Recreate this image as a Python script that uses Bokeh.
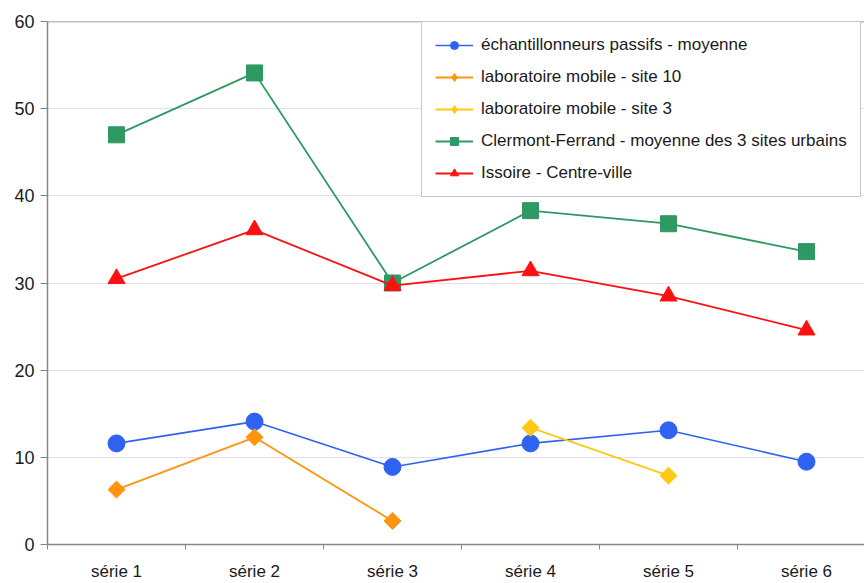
import math

from bokeh.embed import file_html
from bokeh.models import (FixedTicker, Legend, LegendItem, Range1d, Span)
from bokeh.plotting import figure
from bokeh.resources import INLINE

NaN = float("nan")

# Measurement campaigns
categories = ["série 1", "série 2", "série 3", "série 4", "série 5", "série 6"]

# Mean concentrations per campaign
passifs_moyenne = [11.6, 14.1, 8.9, 11.6, 13.1, 9.5]
labo_site10 = [6.3, 12.3, 2.7, NaN, NaN, NaN]
labo_site3 = [NaN, NaN, NaN, 13.4, 7.9, NaN]
clermont_urbains = [47.0, 54.1, 30.0, 38.3, 36.8, 33.6]
issoire_centre = [30.5, 36.1, 29.7, 31.4, 28.5, 24.6]

y_ticks = [0, 10, 20, 30, 40, 50, 60]

# (label, values, colour, marker, size, angle, line width, legend marker)
series = [
    ("échantillonneurs passifs - moyenne", passifs_moyenne, "#3062f2", "circle", 17, 0, 1.6, None),
    ("laboratoire mobile - site 10", labo_site10, "#ff9410", "square", 12, math.pi / 4, 1.8, "diamond"),
    ("laboratoire mobile - site 3", labo_site3, "#ffc814", "square", 12, math.pi / 4, 1.8, "diamond"),
    ("Clermont-Ferrand - moyenne des 3 sites urbains", clermont_urbains, "#2e9962", "square", 16, 0, 1.8, None),
    ("Issoire - Centre-ville", issoire_centre, "#ff1010", "triangle", 17, 0, 1.8, None),
]

x = list(range(1, len(categories) + 1))

p = figure(width=864, height=583, output_backend="svg", toolbar_location=None,
           x_range=Range1d(0.5, 0.5 + 817 / 138), y_range=Range1d(0, 60),
           min_border_left=47, min_border_right=0, min_border_top=21,
           min_border_bottom=38)
p.outline_line_color = None
p.background_fill_color = "white"
p.border_fill_color = "white"

# x axis: names centred on each category, small ticks on the boundaries
p.xaxis.ticker = FixedTicker(ticks=x, minor_ticks=[i + 0.5 for i in range(0, 7)])
p.xaxis.major_label_overrides = {i + 1: c for i, c in enumerate(categories)}
p.xaxis.major_tick_out = 0
p.xaxis.major_tick_in = 0
p.xaxis.minor_tick_out = 5
p.xaxis.minor_tick_in = 0
p.xaxis.major_label_standoff = 12
p.xaxis.major_label_text_font_size = "17px"

p.yaxis.ticker = FixedTicker(ticks=y_ticks)
p.yaxis.major_tick_out = 7
p.yaxis.major_tick_in = 0
p.yaxis.major_label_standoff = 6
p.yaxis.major_label_text_font_size = "18px"

for ax in (p.xaxis, p.yaxis):
    ax.axis_line_color = "#868686"
    ax.axis_line_width = 1.5
    ax.major_tick_line_color = "#868686"
    ax.major_label_text_font = "Liberation Sans"
    ax.major_label_text_color = "#1a1a1a"
p.xaxis.minor_tick_line_color = "#868686"
p.yaxis.minor_tick_line_color = None

p.xgrid.grid_line_color = None
p.ygrid.ticker = FixedTicker(ticks=[10, 20, 30, 40, 50])
p.ygrid.grid_line_color = "#e2e2e2"
p.ygrid.grid_line_width = 1.2

# top border of the plotting area
p.add_layout(Span(location=60, dimension="width", line_color="#808080", line_width=1.5))

items = []
for name, vals, color, marker, size, angle, lw, key_marker in series:
    ln = p.line(x, vals, line_color=color, line_width=lw)
    sc = p.scatter(x, vals, marker=marker, size=size, angle=angle,
                   fill_color=color, line_color=color)
    key = sc
    if key_marker is not None:
        # legend key shape (the rotated square is not rotated in the legend)
        key = p.scatter([NaN], [NaN], marker=key_marker, size=12,
                        fill_color=color, line_color=color)
    items.append(LegendItem(label=name, renderers=[ln, key]))

legend = Legend(items=items, location=(374, 347))
legend.border_line_color = "#8c8c8c"
legend.border_line_width = 1.2
legend.background_fill_color = "white"
legend.background_fill_alpha = 1
legend.label_text_font = "Liberation Sans"
legend.label_text_font_size = "17px"
legend.label_text_color = "#1a1a1a"
legend.glyph_width = 38
legend.glyph_height = 20
legend.label_height = 20
legend.label_standoff = 8
legend.spacing = 12
legend.padding = 13
legend.margin = 0
p.add_layout(legend, "center")

open("out.html", "w").write(file_html(p, INLINE))
